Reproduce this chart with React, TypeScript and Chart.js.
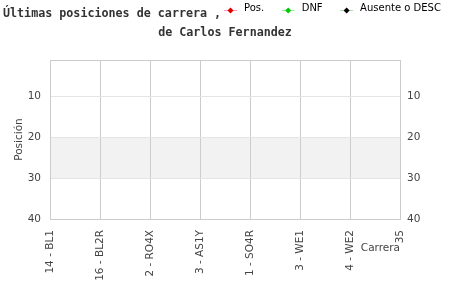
import { useEffect, useRef } from 'react';
import { Chart, registerables } from 'chart.js';

Chart.register(...registerables);

// ---- data ----
const raceTickValues = [0, 5, 10, 15, 20, 25, 30, 35];
const raceLabels = ['14 - BL1', '16 - BL2R', '2 - RO4X', '3 - AS1Y', '1 - SO4R', '3 - WE1', '4 - WE2'];
const positionTicks = [10, 20, 30, 40];
const positionMin = 1;
const positionMax = 40;
const bandRange = [20, 30];
const posSeries: { x: number; y: number }[] = [];
const dnfSeries: { x: number; y: number }[] = [];
const absentSeries: { x: number; y: number }[] = [];
const seriesNames = ['Pos.', 'DNF', 'Ausente o DESC'];
const titleLine1 = 'Últimas posiciones de carrera ,';
const titleLine2 = 'de Carlos Fernandez';
const xTitle = 'Carrera';
const yTitle = 'Posición';

const FONT = '"DejaVu Sans", sans-serif';

const decorPlugin = {
  id: 'decor',
  beforeDraw(chart: any) {
    const { ctx, chartArea: a, scales } = chart;
    const y = scales.y;
    const p1 = y.getPixelForValue(bandRange[0]);
    const p2 = y.getPixelForValue(bandRange[1]);
    ctx.save();
    ctx.fillStyle = '#f2f2f2';
    ctx.fillRect(a.left, Math.min(p1, p2), a.right - a.left, Math.abs(p2 - p1));
    ctx.restore();
  },
  afterDraw(chart: any) {
    const { ctx, chartArea: a } = chart;
    ctx.save();
    // frame
    ctx.strokeStyle = '#cccccc';
    ctx.lineWidth = 1;
    ctx.strokeRect(Math.round(a.left) + 0.5, Math.round(a.top) + 0.5, Math.round(a.right - a.left), Math.round(a.bottom - a.top));

    // title
    ctx.fillStyle = '#333333';
    ctx.font = 'bold 11.7px "DejaVu Sans Mono", monospace';
    ctx.textBaseline = 'middle';
    ctx.textAlign = 'left';
    ctx.fillText(titleLine1, 3, 13.5);
    ctx.textAlign = 'center';
    ctx.fillText(titleLine2, chart.width / 2, 32.5);

    // legend
    ctx.font = '10px ' + FONT;
    ctx.textAlign = 'left';
    let x = 224;
    const ly = 10;
    chart.data.datasets.forEach((ds: any) => {
      ctx.strokeStyle = ds.borderColor;
      ctx.lineWidth = 1;
      ctx.beginPath();
      ctx.moveTo(x, ly + 0.5);
      ctx.lineTo(x + 13, ly + 0.5);
      ctx.stroke();
      const cx = x + 6.5;
      ctx.fillStyle = ds.pointBackgroundColor;
      ctx.beginPath();
      ctx.moveTo(cx, ly + 0.5 - 3);
      ctx.lineTo(cx + 3, ly + 0.5);
      ctx.lineTo(cx, ly + 0.5 + 3);
      ctx.lineTo(cx - 3, ly + 0.5);
      ctx.closePath();
      ctx.fill();
      ctx.fillStyle = '#000000';
      ctx.fillText(ds.label, x + 20, 8.5);
      x = x + 20 + ctx.measureText(ds.label).width + 17.5;
    });
    ctx.restore();
  },
};

export default function App() {
  const ref = useRef<HTMLCanvasElement | null>(null);

  useEffect(() => {
    document.body.style.margin = '0';
    if (!ref.current) return;
    const tickFont = { family: FONT, size: 10.5 };
    const chart = new Chart(ref.current, {
      type: 'scatter',
      data: {
        datasets: [
          { label: seriesNames[0], data: posSeries, borderColor: '#ff99c8', pointBackgroundColor: '#e00000', showLine: true },
          { label: seriesNames[1], data: dnfSeries, borderColor: '#99ee99', pointBackgroundColor: '#00cc00', showLine: true },
          { label: seriesNames[2], data: absentSeries, borderColor: '#a8e0a8', pointBackgroundColor: '#000000', showLine: true },
        ],
      },
      options: {
        responsive: false,
        animation: false,
        devicePixelRatio: 1,
        layout: { padding: { top: 60, left: 0, right: 0, bottom: 0 } },
        plugins: { legend: { display: false }, title: { display: false }, tooltip: { enabled: false } },
        scales: {
          x: {
            type: 'linear',
            min: raceTickValues[0],
            max: raceTickValues[raceTickValues.length - 1],
            afterBuildTicks: (s: any) => {
              s.ticks = raceTickValues.map((v) => ({ value: v }));
            },
            afterFit: (s: any) => {
              s.height = 81;
            },
            grid: { color: '#cccccc', drawTicks: false },
            border: { display: false },
            ticks: {
              autoSkip: false,
              minRotation: 90,
              maxRotation: 90,
              padding: 11,
              color: '#444444',
              font: tickFont,
              callback: (v: any) => {
                const i = raceTickValues.indexOf(Number(v));
                return i >= 0 && i < raceLabels.length ? raceLabels[i] : String(v);
              },
            },
            title: {
              display: true,
              text: xTitle,
              align: 'end',
              color: '#444444',
              font: tickFont,
              padding: { top: 0, bottom: 45.5 },
            },
          },
          y: {
            type: 'linear',
            position: 'left',
            reverse: true,
            min: positionMin,
            max: positionMax,
            afterBuildTicks: (s: any) => {
              s.ticks = positionTicks.map((v) => ({ value: v }));
            },
            afterFit: (s: any) => {
              s.width = 50;
            },
            grid: { color: '#e4e4e4', drawTicks: false },
            border: { display: false },
            ticks: { padding: 9, color: '#444444', font: tickFont },
            title: {
              display: true,
              text: yTitle,
              color: '#444444',
              font: tickFont,
              padding: { top: 13.2, bottom: 0 },
            },
          },
          y2: {
            type: 'linear',
            position: 'right',
            reverse: true,
            min: positionMin,
            max: positionMax,
            afterBuildTicks: (s: any) => {
              s.ticks = positionTicks.map((v) => ({ value: v }));
            },
            afterFit: (s: any) => {
              s.width = 50;
            },
            grid: { display: false, drawTicks: false },
            border: { display: false },
            ticks: { padding: 7, color: '#444444', font: tickFont },
          },
        },
      } as any,
      plugins: [decorPlugin],
    });
    return () => chart.destroy();
  }, []);

  return (
    <div style={{ width: 450, height: 300 }}>
      <canvas ref={ref} width={450} height={300} />
    </div>
  );
}
